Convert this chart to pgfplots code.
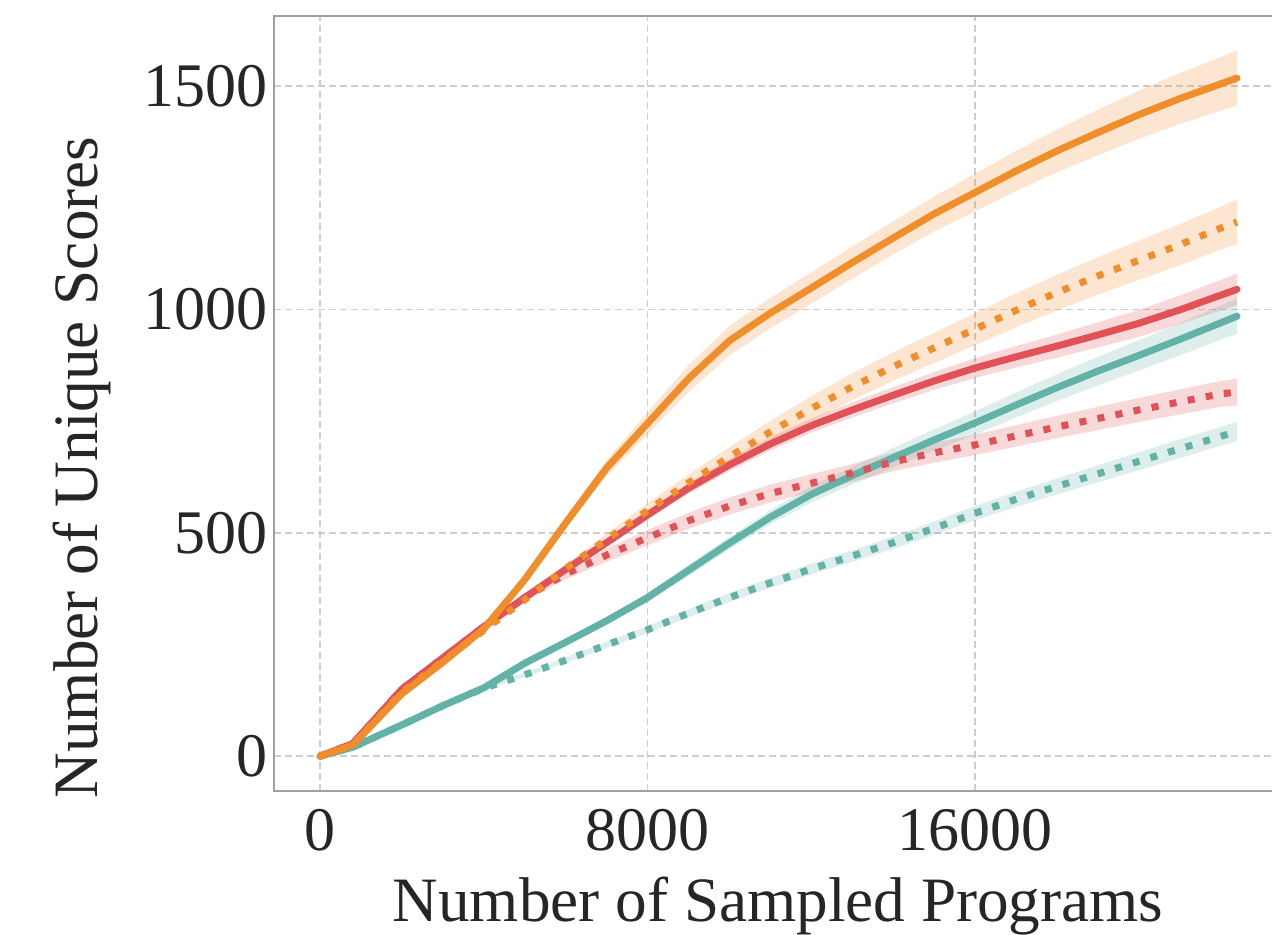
\documentclass[border=0pt]{standalone}
\usepackage{fontspec}
\setmainfont{Liberation Serif}
\usepackage{pgfplots}
\usepackage{pgfplotstable}
\pgfplotsset{compat=1.18}
\usepgfplotslibrary{fillbetween}
\definecolor{cor}{RGB}{240,142,44}
\definecolor{cre}{RGB}{224,82,86}
\definecolor{cte}{RGB}{98,178,168}
\definecolor{axg}{RGB}{160,160,160}
\definecolor{grg}{RGB}{205,205,205}

\pgfplotstableread{
x y e
0 0 0
800 25 1
2000 140 3
3000 210 4
4000 285 5
5000 395 8
6000 522 12
7000 645 18
8000 745 25
9000 845 30
10000 930 33
11000 992 34
12000 1048 35
13000 1105 36
14000 1160 37
15000 1214 39
16000 1262 42
17000 1310 45
18000 1355 48
19000 1396 51
20000 1436 54
21000 1472 57
22000 1505 60
22400 1518 62
}\os
\pgfplotstableread{
x y e
0 0 0
800 25 1
2000 143 3
3000 213 4
4000 282 5
5000 350 7
6000 420 10
7000 485 13
8000 550 16
9000 612 19
10000 670 22
11000 726 25
12000 778 28
13000 827 30
14000 872 32
15000 914 34
16000 956 36
17000 998 38
18000 1038 40
19000 1075 42
20000 1110 44
21000 1145 46
22000 1182 48
22400 1196 50
}\od
\pgfplotstableread{
x y e
0 0 0
800 28 1
2000 150 3
3000 220 4
4000 290 5
5000 355 6
6000 418 8
7000 478 9
8000 540 10
9000 600 12
10000 652 14
11000 699 15
12000 740 16
13000 775 17
14000 808 18
15000 840 20
16000 869 22
17000 894 24
18000 918 26
19000 943 28
20000 969 30
21000 999 32
22000 1032 34
22400 1045 35
}\rs
\pgfplotstableread{
x y e
0 0 0
800 28 1
2000 150 3
3000 220 4
4000 290 5
5000 355 8
6000 408 12
7000 450 15
8000 489 17
9000 527 18
10000 560 19
11000 588 20
12000 611 20
13000 634 20
14000 659 21
15000 679 22
16000 697 23
17000 717 24
18000 737 25
19000 756 26
20000 775 27
21000 793 28
22000 811 29
22400 815 30
}\rd
\pgfplotstableread{
x y e
0 0 0
800 20 1
2000 70 2
3000 113 3
4000 153 4
5000 208 5
6000 255 6
7000 303 8
8000 355 10
9000 416 12
10000 477 14
11000 535 16
12000 586 18
13000 628 20
14000 668 22
15000 708 24
16000 746 26
17000 786 28
18000 825 30
19000 862 32
20000 897 34
21000 933 36
22000 970 38
22400 985 40
}\ts
\pgfplotstableread{
x y e
0 0 0
800 20 1
2000 70 2
3000 113 3
4000 152 4
5000 182 5
6000 215 6
7000 249 7
8000 283 8
9000 320 9
10000 355 10
11000 388 11
12000 419 12
13000 448 13
14000 478 14
15000 510 15
16000 544 16
17000 575 17
18000 604 18
19000 632 19
20000 660 20
21000 688 21
22000 716 21
22400 727 22
}\td

\newcommand\band[2]{%
  \addplot[draw=none, name path=#1hi, forget plot] table[x=x, y expr=\thisrow{y}+\thisrow{e}] {#2};
  \addplot[draw=none, name path=#1lo, forget plot] table[x=x, y expr=\thisrow{y}-\thisrow{e}] {#2};
}

\begin{document}
\begin{tikzpicture}
\begin{axis}[
  scale only axis,
  width=249.5pt, height=193.75pt,
  xmin=-1124, xmax=23255,
  ymin=-78, ymax=1657,
  axis line style={draw=none},
  scaled x ticks=false, scaled y ticks=false,
  xtick={0,8000,16000}, xticklabels={0,8000,16000},
  ytick={0,500,1000,1500}, yticklabels={0,500,1000,1500},
  major tick length=0pt,
  tick label style={font=\fontsize{15.5}{18}\selectfont, text=black!85},
  xticklabel style={anchor=base, yshift=-14.75pt, inner sep=0pt},
  yticklabel style={anchor=east, inner sep=0pt, xshift=-1.5pt},
  grid=major,
  major grid style={grg, line width=0.4pt, dash pattern=on 1.75pt off 1pt},
  xlabel={Number of Sampled Programs},
  ylabel={Number of Unique Scores},
  label style={font=\fontsize{15.8}{19}\selectfont, text=black!85},
  xlabel style={at={(rel axis cs:0.505,-0.168)}, anchor=base},
  ylabel style={at={(rel axis cs:-0.1764,0.4174)}, anchor=base, rotate=0},
  clip=false,
]
\coordinate (bl) at (rel axis cs:0,0);
\coordinate (br) at (rel axis cs:1,0);
\coordinate (tl) at (rel axis cs:0,1);
\coordinate (tr) at (rel axis cs:1,1);

\band{os}{\os}
\band{od}{\od}
\band{rs}{\rs}
\band{rd}{\rd}
\band{ts}{\ts}
\band{td}{\td}
\addplot[cor, fill opacity=0.22, draw=none, forget plot] fill between[of=oshi and oslo];
\addplot[cor, fill opacity=0.22, draw=none, forget plot] fill between[of=odhi and odlo];
\addplot[cre, fill opacity=0.22, draw=none, forget plot] fill between[of=rshi and rslo];
\addplot[cre, fill opacity=0.22, draw=none, forget plot] fill between[of=rdhi and rdlo];
\addplot[cte, fill opacity=0.22, draw=none, forget plot] fill between[of=tshi and tslo];
\addplot[cte, fill opacity=0.22, draw=none, forget plot] fill between[of=tdhi and tdlo];

\pgfplotsset{solidl/.style={line width=1.75pt, line join=round, line cap=round},
  dotl/.style={line width=1.75pt, line join=round, line cap=butt, dash pattern=on 1.75pt off 2.85pt}}
\addplot[cte, dotl] table[x=x,y=y] {\td};
\addplot[cte, solidl] table[x=x,y=y] {\ts};
\addplot[cre, dotl] table[x=x,y=y] {\rd};
\addplot[cre, solidl] table[x=x,y=y] {\rs};
\addplot[cor, dotl] table[x=x,y=y] {\od};
\addplot[cor, solidl] table[x=x,y=y] {\os};
\end{axis}
\draw[axg, line width=0.5pt] (tr) -- (tl) -- (bl) -- (br);
\pgfresetboundingbox
\path[use as bounding box] (bl) ++(-68.5pt,-35.75pt) rectangle ++(318pt,233.5pt);
\end{tikzpicture}
\end{document}
